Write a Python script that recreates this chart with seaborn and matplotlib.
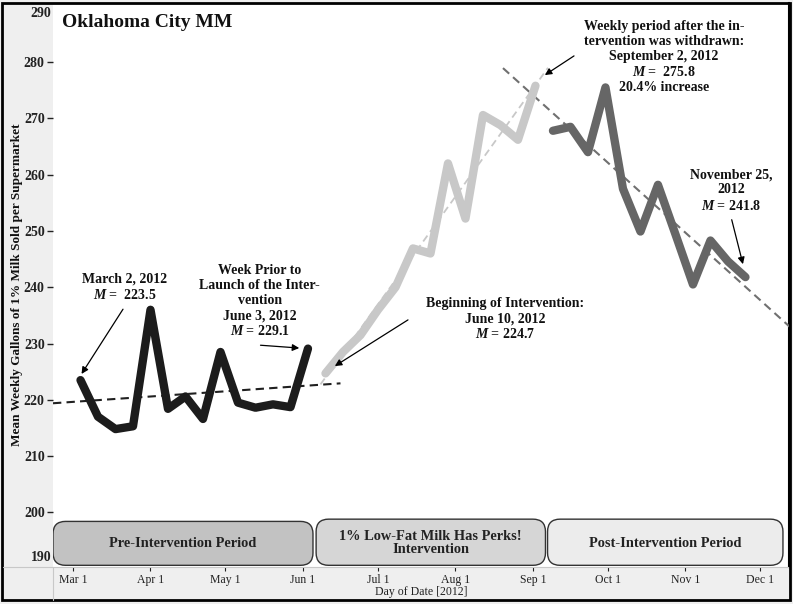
import matplotlib
matplotlib.use('Agg')
import matplotlib.pyplot as plt
import matplotlib.dates as mdates
from matplotlib.patches import FancyBboxPatch, Rectangle
from matplotlib.lines import Line2D
import numpy as np
import pandas as pd
import seaborn as sns

# weekly means, gallons of 1% milk per supermarket
pre_dates = pd.date_range('2012-03-04', periods=14, freq='7D')
pre_vals = [223.5, 217.0, 214.8, 215.3, 236.0, 218.4, 220.6, 216.6, 228.5, 219.5, 218.6, 219.2, 218.7, 229.1]

int_dates = pd.date_range('2012-06-10', periods=13, freq='7D')
int_vals = [224.7, 228.5, 231.5, 236.0, 240.0, 246.9, 246.0, 262.0, 252.2, 270.6, 268.8, 266.2, 275.8]

post_dates = pd.date_range('2012-09-09', periods=12, freq='7D')
post_vals = [267.8, 268.5, 264.0, 275.5, 257.5, 249.9, 258.2, 249.4, 240.5, 248.3, 244.6, 241.8]

periods = ['Pre-Intervention Period', '1% Low-Fat Milk Has Perks!\nIntervention', 'Post-Intervention Period']
period_spans = [('2012-02-22', '2012-06-05'), ('2012-06-06 06:00', '2012-09-06'), ('2012-09-06 20:00', '2012-12-10')]
period_colors = ['#c2c2c2', '#d6d6d6', '#ececec']

sns.set_theme(style='white')
plt.rcParams['font.family'] = ['Liberation Serif', 'DejaVu Serif']
plt.rcParams['mathtext.fontset'] = 'custom'
plt.rcParams['mathtext.it'] = 'Liberation Serif:italic:bold'
plt.rcParams['mathtext.rm'] = 'Liberation Serif:bold'

fig = plt.figure(figsize=(7.93, 6.04), dpi=100, facecolor='#efefef')
ax = fig.add_axes([53 / 793, 37 / 604, 736 / 793, 564 / 604])
ax.set_facecolor('white')

c_pre, c_int, c_post = '#1c1c1c', '#c8c8c8', '#666666'


def trend(dates, vals, start, end, color, lw, dash):
    x = mdates.date2num(dates)
    k, b = np.polyfit(x, vals, 1)
    xx = mdates.date2num(pd.to_datetime([start, end]))
    ax.plot(xx, k * xx + b, color=color, lw=lw, ls=(0, dash), zorder=3)


trend(pre_dates, pre_vals, '2012-02-22', '2012-06-16', '#202020', 1.5, (4, 2.5))
trend(int_dates, int_vals, '2012-06-08', '2012-09-07', '#c8c8c8', 1.3, (4, 2.5))
trend(post_dates, post_vals, '2012-08-20', '2012-12-13', '#707070', 1.5, (4, 2.5))

for d, v, c in [(pre_dates, pre_vals, c_pre), (int_dates, int_vals, c_int), (post_dates, post_vals, c_post)]:
    sns.lineplot(x=d, y=v, ax=ax, color=c, lw=6, solid_capstyle='round',
                 solid_joinstyle='round', zorder=4)

ax.set_xlim(pd.Timestamp('2012-02-22'), pd.Timestamp('2012-12-12 10:00'))
ax.set_ylim(190.3, 290.5)

# period boxes
aspect = 2.5 / 5.65
for name, (s, e), col in zip(periods, period_spans, period_colors):
    x0 = mdates.date2num(pd.Timestamp(s))
    x1 = mdates.date2num(pd.Timestamp(e))
    top = 198.4 if col == '#c2c2c2' else 198.8
    box = FancyBboxPatch((x0, 190.6), x1 - x0, top - 190.6,
                         boxstyle='round,pad=0,rounding_size=5', mutation_aspect=aspect,
                         facecolor=col, edgecolor='#333333', lw=1.0, zorder=5)
    ax.add_patch(box)
    ax.text((x0 + x1) / 2, 194.5, name, ha='center', va='center', fontsize=10.4,
            fontweight='bold', color='#222222', linespacing=1.0, zorder=6)

# ticks
ax.xaxis.set_major_locator(mdates.MonthLocator(bymonthday=1))
ax.xaxis.set_major_formatter(mdates.DateFormatter('%b %-d'))
ax.set_yticks(range(200, 290, 10))
ax.tick_params(axis='y', direction='out', length=4, width=1, pad=2, labelsize=10, left=True, colors='#222222')
ax.tick_params(axis='x', direction='out', length=3, width=0.8, pad=2, labelsize=8.5, bottom=True, colors='#222222')
for t in ax.get_yticklabels():
    t.set_fontweight('bold')
ax.set_xlabel('')
ax.set_ylabel('')
ax.text(-0.002, 0.993, '290', transform=ax.transAxes, ha='right', va='top', fontsize=10,
        fontweight='bold', color='#222222')
ax.text(-0.002, 0.006, '190', transform=ax.transAxes, ha='right', va='bottom', fontsize=10,
        fontweight='bold', color='#222222')

for side in ['top', 'left']:
    ax.spines[side].set_visible(False)
ax.spines['bottom'].set_color('#c8c8c8')
ax.spines['bottom'].set_linewidth(0.8)
ax.spines['right'].set_color('black')
ax.spines['right'].set_linewidth(1.5)

ax.text(0.012, 0.966, 'Oklahoma City MM', transform=ax.transAxes, ha='left', va='center',
        fontsize=14, fontweight='bold', color='#111111')

# annotations
kw = dict(ha='center', va='center', fontsize=10, fontweight='bold', color='#111111', linespacing=1.2, zorder=7)
arrow = dict(arrowstyle='-|>', color='black', lw=0.9, mutation_scale=10, shrinkA=0, shrinkB=0)


def note(text, tx, ty, tail, head):
    ax.text(pd.Timestamp(tx), ty, text, **kw)
    ax.annotate('', xy=(pd.Timestamp(head[0]), head[1]), xytext=(pd.Timestamp(tail[0]), tail[1]),
                arrowprops=arrow, zorder=7)


note('March 2, 2012\n$M$ =  223.5', '2012-03-21 16:00', 240.0,
     ('2012-03-21', 236.1), ('2012-03-04 10:00', 224.6))
note('Week Prior to\nLaunch of the Inter-\nvention\nJune 3, 2012\n$M$ = 229.1', '2012-05-14 18:00', 237.5,
     ('2012-05-15', 229.7), ('2012-05-30 12:00', 229.2))
note('Beginning of Intervention:\nJune 10, 2012\n$M$ = 224.7', '2012-08-21', 234.3,
     ('2012-07-13', 234.2), ('2012-06-13 18:00', 226.0))
note('Weekly period after the in-\ntervention was withdrawn:\nSeptember 2, 2012\n$M$ =  275.8\n20.4% increase',
     '2012-10-23 10:00', 280.9, ('2012-09-17 10:00', 281.1), ('2012-09-05 18:00', 277.7))
note('November 25,\n2012\n$M$ = 241.8', '2012-11-19 05:00', 257.2,
     ('2012-11-19 12:00', 252.0), ('2012-11-24', 244.1))

# labels and frame
fig.text(17 / 793, 1 - 285 / 604, 'Mean Weekly Gallons of 1% Milk Sold per Supermarket', rotation=90,
         ha='center', va='center', fontsize=9.5, fontweight='bold', color='#111111')
fig.text(421 / 793, 1 - 592 / 604, 'Day of Date [2012]', ha='center', va='center', fontsize=8.5,
         color='#222222')
fig.add_artist(Line2D([3 / 793, 53 / 793], [37 / 604, 37 / 604], transform=fig.transFigure,
                      color='#c8c8c8', lw=0.8))
fig.add_artist(Line2D([53 / 793, 53 / 793], [4 / 604, 37 / 604], transform=fig.transFigure,
                      color='#c8c8c8', lw=0.8))
fig.add_artist(Rectangle((2 / 793, 4 / 604), 788 / 793, 597 / 604, transform=fig.transFigure,
                         fill=False, edgecolor='black', lw=2))

fig.savefig('out.png', dpi=100, facecolor=fig.get_facecolor())
